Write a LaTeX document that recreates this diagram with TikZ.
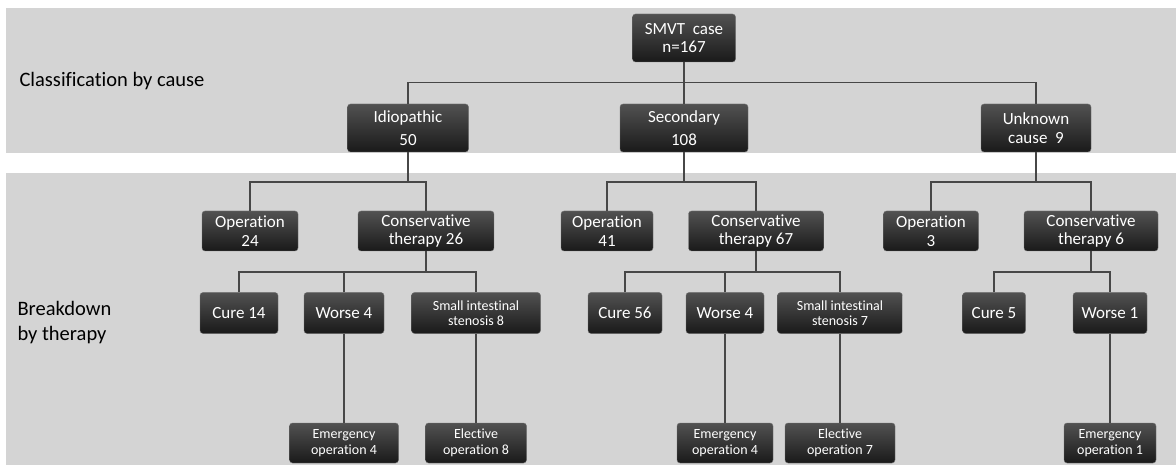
\documentclass[tikz,border=0pt]{standalone}
\usepackage{fontspec}
\setmainfont[Ligatures={NoCommon}]{Carlito}
\usetikzlibrary{positioning}

\tikzset{
  box/.style={draw=black!55,line width=0.4pt,rounded corners=3pt,top color=black!68,bottom color=black!90,
    text=white,align=center,inner sep=1pt,font=\fontsize{17}{18.5}\selectfont},
  small/.style={font=\fontsize{14}{15.5}\selectfont},
  tree/.style={draw=black!72,line width=1.4pt},
}

\begin{document}
\begin{tikzpicture}[x=1pt,y=-1pt]

\useasboundingbox (0,0) rectangle (1176,465);
\fill[black!17] (6,8) rectangle (1176,153);
\fill[black!17] (6,173) rectangle (1176,465);

\node[anchor=west,font=\fontsize{20.5}{22}\selectfont] (lblcause) at (16,81) {Classification by cause};
\node[anchor=west,align=left,font=\fontsize{20.5}{25}\selectfont] (lbltherapy) at (14,323) {Breakdown\\by therapy};

% cause level
\node[box,minimum width=103,minimum height=48] (smvt) at (684,38) {SMVT\ \ case\\n=167};
\node[box,minimum width=121,minimum height=48] (idio) at (408,128) {Idiopathic\\[4pt]50};
\node[box,minimum width=128,minimum height=48] (sec) at (684,128) {Secondary\\[4pt]108};
\node[box,minimum width=110,minimum height=48] (unk) at (1036,128) {Unknown\\cause\ \ 9};

% therapy level
\node[box,minimum width=96,minimum height=40] (op24) at (250,231) {Operation\\24};
\node[box,minimum width=136,minimum height=40] (ct26) at (426,231) {Conservative\\therapy 26};
\node[box,minimum width=92,minimum height=40] (op41) at (607,231) {Operation\\41};
\node[box,minimum width=135,minimum height=40] (ct67) at (756,231) {Conservative\\therapy 67};
\node[box,minimum width=95,minimum height=40] (op3) at (931,231) {Operation\\3};
\node[box,minimum width=134,minimum height=40] (ct6) at (1091,231) {Conservative\\therapy 6};

% outcome level
\node[box,minimum width=78,minimum height=41] (cure14) at (239,313) {Cure 14};
\node[box,minimum width=80,minimum height=41] (worse4a) at (344,313) {Worse 4};
\node[box,small,minimum width=129,minimum height=41] (sis8) at (476,313) {Small intestinal\\stenosis 8};
\node[box,minimum width=74,minimum height=41] (cure56) at (625,313) {Cure 56};
\node[box,minimum width=78,minimum height=41] (worse4b) at (725,313) {Worse 4};
\node[box,small,minimum width=125,minimum height=41] (sis7) at (840,313) {Small intestinal\\stenosis 7};
\node[box,minimum width=63,minimum height=41] (cure5) at (994,313) {Cure 5};
\node[box,minimum width=74,minimum height=41] (worse1) at (1110,313) {Worse 1};

% operation level
\node[box,small,minimum width=109,minimum height=40] (em4a) at (344,443) {Emergency\\operation 4};
\node[box,small,minimum width=101,minimum height=40] (el8) at (476,443) {Elective\\operation 8};
\node[box,small,minimum width=96,minimum height=40] (em4b) at (725,443) {Emergency\\operation 4};
\node[box,small,minimum width=110,minimum height=40] (el7) at (840,443) {Elective\\operation 7};
\node[box,small,minimum width=92,minimum height=40] (em1) at (1110,443) {Emergency\\operation 1};

% connectors
\draw[tree] (smvt) -- (sec);
\draw[tree] (idio.north) -- ++(0,-21) -| (unk.north);

\draw[tree] (idio.south) -- ++(0,30) coordinate (j1);
\draw[tree] (op24.north) |- (j1) -| (ct26.north);
\draw[tree] (sec.south) -- ++(0,30) coordinate (j2);
\draw[tree] (op41.north) |- (j2) -| (ct67.north);
\draw[tree] (unk.south) -- ++(0,30) coordinate (j3);
\draw[tree] (op3.north) |- (j3) -| (ct6.north);

\draw[tree] (ct26.south) -- ++(0,21) coordinate (k1);
\draw[tree] (cure14.north) |- (k1) -| (sis8.north);
\draw[tree] (worse4a.north) -- (worse4a.north |- k1);
\draw[tree] (ct67.south) -- ++(0,21) coordinate (k2);
\draw[tree] (cure56.north) |- (k2) -| (sis7.north);
\draw[tree] (worse4b.north) -- (worse4b.north |- k2);
\draw[tree] (ct6.south) -- ++(0,21) coordinate (k3);
\draw[tree] (cure5.north) |- (k3) -| (worse1.north);

\draw[tree] (worse4a) -- (em4a);
\draw[tree] (sis8) -- (el8);
\draw[tree] (worse4b) -- (em4b);
\draw[tree] (sis7) -- (el7);
\draw[tree] (worse1) -- (em1);

\end{tikzpicture}
\end{document}
